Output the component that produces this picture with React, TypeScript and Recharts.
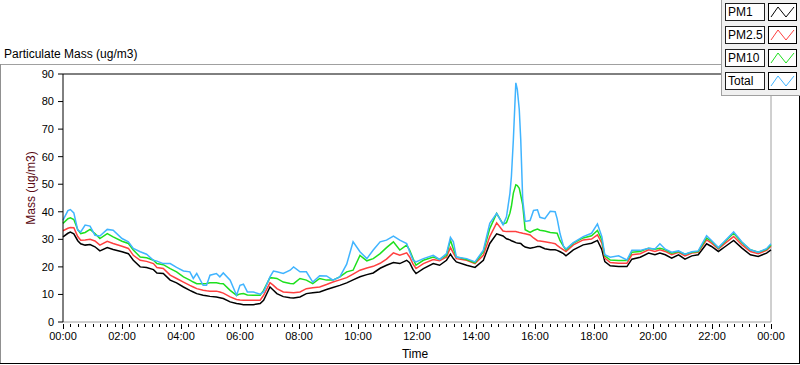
import { LineChart, Line, XAxis, YAxis, ReferenceLine } from 'recharts'

// minutes since midnight
const times = [
  0, 10, 15, 22, 30, 36, 45, 55, 65, 75,
  90, 102, 120, 133, 143, 157, 170, 184, 191, 204,
  218, 231, 245, 258, 265, 272, 285, 292, 299, 312,
  319, 326, 340, 353, 360, 367, 375, 387, 401, 408,
  421, 428, 435, 448, 462, 469, 482, 495, 508, 522,
  536, 549, 563, 577, 590, 604, 618, 631, 645, 658,
  672, 685, 699, 705, 712, 718, 733, 753, 766, 780,
  788, 794, 800, 821, 838, 855, 868, 882, 895, 902,
  909, 912, 916, 921, 924, 928, 931, 935, 940, 950,
  957, 965, 970, 980, 991, 1001, 1005, 1011, 1018, 1023,
  1038, 1058, 1075, 1087, 1096, 1102, 1113, 1130, 1147, 1157,
  1174, 1191, 1204, 1214, 1225, 1238, 1252, 1265, 1279, 1292,
  1309, 1319, 1333, 1347, 1364, 1381, 1398, 1414, 1431, 1440,
]

const pm1 = [
  30.9, 32.2, 32.6, 32.0, 29.5, 28.4, 27.9, 28.1, 27.3, 25.8,
  27.0, 26.3, 25.5, 24.8, 22.4, 20.0, 19.8, 19.0, 17.8, 17.6,
  15.2, 14.2, 12.7, 11.5, 10.9, 10.3, 9.7, 9.5, 9.3, 9.1,
  8.8, 8.5, 7.3, 6.7, 6.5, 6.3, 6.3, 6.3, 6.7, 7.9,
  12.7, 11.5, 10.3, 9.2, 8.8, 8.7, 9.1, 10.3, 10.6, 10.9,
  11.8, 12.5, 13.3, 14.2, 15.3, 16.4, 17.2, 17.8, 19.5, 20.6,
  21.6, 21.2, 22.4, 21.5, 19.0, 17.6, 19.4, 21.2, 20.6, 22.4,
  24.6, 23.0, 21.8, 20.6, 19.8, 22.4, 28.5, 32.0, 31.2, 30.2,
  29.8, 29.5, 29.2, 28.8, 28.7, 28.6, 28.5, 27.8, 27.2, 26.8,
  27.0, 27.4, 27.4, 26.6, 26.2, 26.2, 26.0, 25.5, 24.8, 24.0,
  26.2, 28.0, 28.6, 29.6, 26.2, 21.9, 20.4, 20.1, 20.1, 22.8,
  23.5, 25.0, 24.4, 25.0, 24.4, 23.2, 24.4, 22.8, 24.0, 24.4,
  28.4, 27.4, 25.6, 27.4, 29.6, 26.8, 24.4, 23.8, 25.0, 26.2,
]

const pm25 = [
  33.1, 34.0, 34.3, 34.2, 31.0, 29.7, 29.8, 30.0, 29.4, 27.9,
  29.3, 28.5, 27.5, 26.7, 24.2, 22.4, 22.0, 21.2, 19.8, 19.4,
  17.0, 15.8, 14.5, 13.3, 12.7, 12.1, 11.5, 11.3, 11.2, 11.2,
  10.9, 10.5, 9.1, 8.2, 8.0, 7.9, 7.9, 7.9, 7.9, 9.7,
  14.3, 13.3, 12.1, 10.9, 10.7, 10.6, 10.9, 12.1, 12.4, 12.7,
  13.6, 14.5, 15.3, 16.1, 17.4, 18.8, 19.6, 20.2, 21.3, 22.8,
  25.1, 24.2, 25.1, 23.6, 21.0, 19.4, 21.2, 22.7, 22.2, 23.6,
  27.0, 25.0, 23.0, 22.4, 21.2, 24.2, 31.0, 36.0, 33.0, 32.8,
  32.8, 32.8, 32.8, 32.8, 32.7, 32.5, 32.4, 32.2, 32.0, 31.6,
  30.5, 29.5, 29.4, 29.1, 28.8, 28.4, 27.8, 27.0, 26.2, 25.6,
  28.0, 29.8, 30.1, 31.6, 28.6, 23.2, 21.6, 21.3, 21.3, 24.4,
  24.8, 26.2, 25.6, 26.2, 25.6, 24.4, 25.3, 24.0, 25.0, 25.3,
  29.8, 28.6, 26.5, 28.6, 31.0, 28.0, 25.6, 24.8, 26.0, 27.5,
]

const pm10 = [
  35.8, 37.5, 37.8, 37.2, 33.5, 32.1, 32.5, 33.6, 32.1, 30.3,
  32.1, 30.9, 29.3, 28.5, 26.1, 23.6, 23.3, 22.4, 21.2, 20.8,
  19.4, 18.2, 16.4, 15.2, 14.5, 13.9, 13.9, 14.0, 14.2, 14.2,
  14.0, 13.9, 11.5, 9.7, 10.2, 10.3, 9.8, 9.7, 9.7, 11.5,
  16.1, 16.0, 15.8, 14.5, 14.0, 13.9, 15.8, 15.2, 13.9, 15.8,
  15.2, 15.2, 16.4, 18.2, 18.8, 24.2, 22.2, 23.0, 24.8, 27.0,
  29.1, 26.1, 27.9, 26.1, 23.0, 20.6, 22.4, 23.6, 22.7, 24.2,
  29.7, 26.5, 23.6, 22.7, 21.5, 25.5, 33.9, 39.4, 35.5, 36.0,
  39.5, 42.0, 46.8, 49.8, 49.5, 48.5, 46.0, 42.5, 33.5, 32.5,
  33.2, 33.7, 33.3, 33.0, 32.5, 32.3, 32.2, 29.5, 27.5, 26.2,
  28.6, 30.5, 31.3, 33.2, 29.8, 24.0, 22.5, 22.3, 22.3, 25.3,
  25.6, 26.8, 26.4, 26.8, 26.2, 25.0, 25.6, 24.6, 25.3, 25.6,
  30.5, 29.3, 26.8, 29.3, 32.2, 28.8, 26.2, 25.3, 26.4, 28.0,
]

const total = [
  37.0, 40.4, 40.8, 39.6, 33.3, 32.7, 35.2, 34.8, 31.5, 31.2,
  33.6, 33.3, 30.3, 29.1, 26.7, 25.5, 24.6, 22.4, 22.1, 21.2,
  21.2, 19.8, 18.5, 18.2, 15.8, 17.6, 13.3, 13.3, 17.0, 17.6,
  16.4, 17.8, 15.2, 9.7, 13.3, 13.7, 10.9, 10.9, 10.1, 10.9,
  16.4, 18.5, 18.2, 17.6, 18.8, 20.0, 18.2, 18.2, 14.5, 16.8,
  16.7, 15.2, 16.4, 21.0, 29.1, 25.5, 23.0, 26.1, 29.1, 29.7,
  31.2, 29.7, 28.5, 25.5, 22.4, 21.8, 23.0, 24.2, 22.7, 24.8,
  30.7, 29.1, 23.6, 23.0, 21.8, 26.1, 35.8, 39.4, 35.3, 38.2,
  46.7, 52.8, 66.2, 86.8, 84.4, 77.1, 66.2, 44.4, 36.5, 36.8,
  40.5, 40.7, 38.0, 37.5, 40.2, 40.0, 37.5, 32.0, 27.5, 26.5,
  28.8, 31.0, 32.2, 35.6, 31.0, 24.4, 23.5, 24.0, 22.5, 26.0,
  26.0, 26.8, 26.5, 28.4, 26.4, 25.3, 25.8, 24.6, 25.5, 25.8,
  31.3, 29.6, 27.0, 29.6, 32.7, 29.0, 26.2, 25.3, 26.6, 28.4,
]

const yTicks = [0, 10, 20, 30, 40, 50, 60, 70, 80, 90]
const hourLabels = ['00:00', '02:00', '04:00', '06:00', '08:00', '10:00', '12:00', '14:00', '16:00', '18:00', '20:00', '22:00', '00:00']

const SERIES = [
  { key: 'pm1', name: 'PM1', color: '#000000' },
  { key: 'pm25', name: 'PM2.5', color: '#ff4040' },
  { key: 'pm10', name: 'PM10', color: '#1ee01e' },
  { key: 'total', name: 'Total', color: '#40b4ff' },
]

const data = times.map((t, i) => ({
  t,
  pm1: pm1[i],
  pm25: pm25[i],
  pm10: pm10[i],
  total: total[i],
}))

// minor ticks every 15 min, labelled every 2 h
const xTicks: number[] = []
for (let m = 0; m <= 1440; m += 15) xTicks.push(m)

const FONT = '"Liberation Sans", Arial, sans-serif'

function TimeTick({ x, y, payload }: any) {
  const major = payload.value % 120 === 0
  const px = Math.round(x) + 0.5
  return (
    <g>
      <line x1={px} x2={px} y1={y + 2} y2={y + (major ? 7 : 5)} stroke="#000" />
      {major && (
        <text x={x} y={y + 18} textAnchor="middle" fontSize={11} fill="#000">
          {hourLabels[payload.value / 120]}
        </text>
      )}
    </g>
  )
}

function LegendBox() {
  return (
    <div
      style={{
        position: 'absolute',
        left: 721,
        top: 0,
        width: 79,
        height: 96,
        background: '#f0f0f0',
        borderLeft: '1px solid #a0a0a0',
        borderBottom: '1px solid #a0a0a0',
        boxSizing: 'border-box',
      }}
    >
      {SERIES.map((s, i) => (
        <div key={s.key}>
          <div
            style={{
              position: 'absolute',
              left: 3,
              top: 3 + i * 23,
              width: 40,
              height: 18,
              boxSizing: 'border-box',
              border: '1px solid #202020',
              background: '#fff',
              fontSize: 12,
              lineHeight: '16px',
              paddingLeft: 2,
              color: '#000',
            }}
          >
            {s.name}
          </div>
          <svg
            width={29}
            height={18}
            style={{ position: 'absolute', left: 46, top: 3 + i * 23, background: '#fff' }}
          >
            <rect x={0.5} y={0.5} width={28} height={17} fill="#fff" stroke="#000" />
            <polyline points="3,14 10,4 18,14 26,4" fill="none" stroke={s.color} strokeWidth={1} />
          </svg>
        </div>
      ))}
    </div>
  )
}

export default function App() {
  return (
    <div
      style={{
        position: 'absolute',
        left: 0,
        top: 0,
        width: 800,
        height: 365,
        background: '#fff',
        fontFamily: FONT,
        overflow: 'hidden',
      }}
    >
      <div style={{ position: 'absolute', left: 4, top: 47, fontSize: 12, color: '#000' }}>
        Particulate Mass (ug/m3)
      </div>
      {/* outer frame */}
      <div style={{ position: 'absolute', left: 0, top: 64, width: 722, height: 1, background: '#a0a0a0' }} />
      <div style={{ position: 'absolute', left: 0, top: 64, width: 1, height: 300, background: '#909090' }} />
      <div style={{ position: 'absolute', left: 0, top: 363, width: 800, height: 1, background: '#000' }} />
      <div style={{ position: 'absolute', left: 799, top: 96, width: 1, height: 268, background: '#000' }} />

      <div style={{ position: 'absolute', left: 0, top: 0 }}>
        <LineChart
          width={800}
          height={365}
          data={data}
          margin={{ top: 74, right: 29, bottom: 13, left: 0 }}
        >
          <XAxis
            dataKey="t"
            type="number"
            domain={[0, 1440]}
            ticks={xTicks}
            interval={0}
            height={30}
            tickSize={0}
            tickMargin={0}
            tickLine={false}
            axisLine={{ stroke: '#a0a0a0' }}
            tick={<TimeTick />}
          />
          <YAxis
            type="number"
            domain={[0, 90]}
            ticks={yTicks}
            width={63}
            tickSize={5}
            tickMargin={4}
            axisLine={{ stroke: '#000' }}
            tickLine={{ stroke: '#000' }}
            tick={{ fontSize: 11, fill: '#000' }}
          />
          <ReferenceLine y={90} stroke="#000" />
          <ReferenceLine x={1440} stroke="#a0a0a0" />
          {SERIES.map((s) => (
            <Line
              key={s.key}
              dataKey={s.key}
              name={s.name}
              type="linear"
              stroke={s.color}
              strokeWidth={1.5}
              dot={false}
              isAnimationActive={false}
            />
          ))}
        </LineChart>
      </div>

      <div
        style={{
          position: 'absolute',
          left: 31,
          top: 188,
          transform: 'translate(-50%, -50%) rotate(-90deg)',
          fontSize: 12,
          color: '#5a0a14',
          whiteSpace: 'nowrap',
        }}
      >
        Mass (ug/m3)
      </div>
      <div style={{ position: 'absolute', left: 415, top: 354, transform: 'translate(-50%, -50%)', fontSize: 12, color: '#000' }}>
        Time
      </div>

      <LegendBox />
    </div>
  )
}
